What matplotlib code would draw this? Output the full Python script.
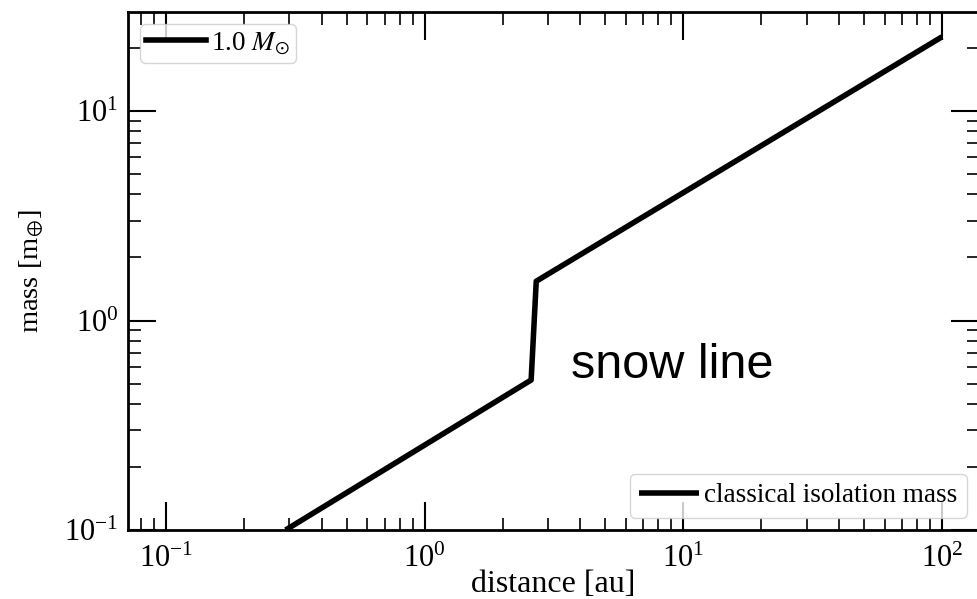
import matplotlib
matplotlib.use("Agg")
import matplotlib.pyplot as plt
from matplotlib.lines import Line2D

# isolation mass curve
distance = [0.29, 2.58, 2.70, 100.0]   # au
mass = [0.1, 0.52, 1.54, 22.6]         # earth masses

star_label = r"1.0 $M_{\odot}$"
curve_label = "classical isolation mass"

plt.rcParams["font.family"] = "Liberation Serif"
plt.rcParams["mathtext.fontset"] = "stix"

fig = plt.figure(figsize=(9.78, 5.99), dpi=100)
ax = fig.add_axes([0.1309, 0.1152, 0.8701, 0.8648])

line, = ax.plot(distance, mass, color="black", lw=4, solid_capstyle="butt",
                label=curve_label)
ax.set_xscale("log")
ax.set_yscale("log")
ax.set_xlim(0.0713, 139)
ax.set_ylim(0.1, 29.7)

ax.tick_params(which="both", direction="in", top=True, right=True,
               labelsize=22)
ax.tick_params(which="major", length=20, width=1.5)
ax.tick_params(which="minor", length=9, width=1.2)
ax.tick_params(axis="x", which="both", pad=10.5)
ax.tick_params(axis="y", which="both", pad=7)
for sp in ax.spines.values():
    sp.set_linewidth(2)

ax.set_xlabel("distance [au]", fontsize=23, labelpad=-3)
ax.set_ylabel(r"mass [m$_{\oplus}$]", fontsize=20.5, labelpad=14)

leg_kw = dict(fontsize=19.5, handlelength=2.2, handletextpad=0.2,
              borderaxespad=0.45, fancybox=True, edgecolor="#cccccc")
leg1 = ax.legend(handles=[Line2D([], [], color="black", lw=4)],
                 labels=[star_label], loc="upper left", borderpad=0.22,
                 **leg_kw)
ax.add_artist(leg1)
ax.legend(handles=[line], loc="lower right", borderpad=0.35, **leg_kw)

ax.text(3.69, 0.531, "snow line", fontsize=35, family="Liberation Sans",
        va="baseline")

fig.savefig("out.png", dpi=100)
